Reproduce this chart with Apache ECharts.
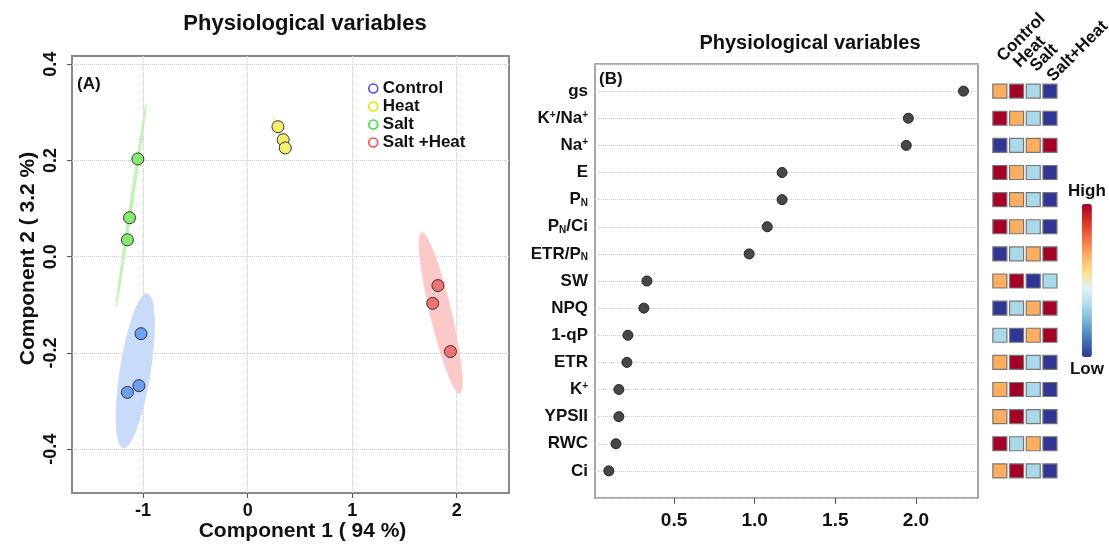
<!DOCTYPE html>
<html>
<head>
<meta charset="utf-8">
<script src="https://cdn.jsdelivr.net/npm/echarts@6/dist/echarts.min.js"></script>
<style>
html, body { margin: 0; padding: 0; background: #fff; }
#chart { width: 1109px; height: 548px; }
</style>
</head>
<body>
<div id="chart"></div>
<script>
// panel A: PCA scores per group [component 1, component 2]
const groups = ['Control', 'Heat', 'Salt', 'Salt +Heat']
const controlScores = [[-1.02, -0.160], [-1.04, -0.268], [-1.15, -0.282]]
const heatScores = [[0.29, 0.270], [0.34, 0.243], [0.36, 0.226]]
const saltScores = [[-1.05, 0.203], [-1.13, 0.081], [-1.15, 0.035]]
const saltHeatScores = [[1.82, -0.060], [1.77, -0.097], [1.94, -0.197]]
// confidence ellipses: centre x, centre y, half major axis (dx, dy), half minor axis (dx, dy)
const controlEllipse = [-1.075, -0.237, 0.115, 0.160, 0.142, -0.005]
const heatEllipse = [0.32, 0.25, -0.081, 0.047, 0.007, 0.0006]
const saltEllipse = [-1.115, 0.106, 0.144, 0.211, 0.013, -0.0004]
const saltHeatEllipse = [1.847, -0.117, -0.182, 0.167, 0.098, 0.005]
const pcaXTicks = [-1, 0, 1, 2]
const pcaYTicks = [-0.4, -0.2, 0, 0.2, 0.4]

// panel B: variables top to bottom, VIP scores and rank of each treatment (4 = high, 1 = low)
const variables = ['{b|gs}', '{b|K}{sup|+}{b|/Na}{sup|+}', '{b|Na}{sup|+}', '{b|E}', '{b|P}{sub|N}',
  '{b|P}{sub|N}{b|/Ci}', '{b|ETR/P}{sub|N}', '{b|SW}', '{b|NPQ}', '{b|1-qP}', '{b|ETR}',
  '{b|K}{sup|+}', '{b|YPSII}', '{b|RWC}', '{b|Ci}']
const vipScores = [2.295, 1.953, 1.94, 1.17, 1.17, 1.078, 0.966, 0.332, 0.313, 0.214, 0.208, 0.158, 0.158, 0.14, 0.096]
const treatments = ['Control', 'Heat', 'Salt', 'Salt+Heat']
const heatRanks = [
  [3, 4, 2, 1], [4, 3, 2, 1], [1, 2, 3, 4], [4, 3, 2, 1], [4, 3, 2, 1],
  [4, 3, 2, 1], [1, 2, 3, 4], [3, 4, 1, 2], [1, 2, 3, 4], [2, 1, 3, 4],
  [3, 4, 2, 1], [3, 4, 2, 1], [3, 4, 2, 1], [4, 2, 3, 1], [3, 4, 2, 1]
]
const vipTicks = [0.5, 1, 1.5, 2]

const pointColors = ['#6a9ff2', '#f2f06e', '#86ea70', '#f07272']
const legendColors = ['#5050e6', '#e6e000', '#3ddd3d', '#ff4a4a']
const ellipseColors = ['#c8dbf8', '#f4f4c4', '#bff3b3', '#fcc9c9']

const yCats = ['', ...variables.slice().reverse(), '']
const n = variables.length
const dotData = vipScores.map((v, i) => [v, n - i])
const heatData = []
heatRanks.forEach((row, i) => row.forEach((r, j) => heatData.push([j, n - i, r])))

const font = 'Liberation Sans, Arial, sans-serif'
const dark = '#111'
const rich = {
  b: { fontSize: 17, fontWeight: 'bold', color: dark, fontFamily: font },
  sup: { fontSize: 10, fontWeight: 'bold', color: dark, fontFamily: font, verticalAlign: 'top' },
  sub: { fontSize: 10, fontWeight: 'bold', color: dark, fontFamily: font, verticalAlign: 'bottom' }
}
// column headers sit a little lower towards the right, as in the original
const headDrop = [0, 6, 10, 20]
const headRich = {}
headDrop.forEach((d, i) => {
  const s = d / Math.SQRT2
  headRich['c' + i] = { fontSize: 17, fontWeight: 'bold', color: dark, fontFamily: font,
    padding: [0, 0, 2 * (14.2 - s), 14.2 - s] }
})

function ellipseItem(params, api) {
  const e = params.dataIndex
  const d = [controlEllipse, heatEllipse, saltEllipse, saltHeatEllipse][e]
  const pts = []
  for (let k = 0; k < 90; k++) {
    const t = k / 90 * Math.PI * 2
    pts.push(api.coord([d[0] + d[2] * Math.cos(t) + d[4] * Math.sin(t),
      d[1] + d[3] * Math.cos(t) + d[5] * Math.sin(t)]))
  }
  return {
    type: 'polygon',
    shape: { points: pts },
    style: { fill: ellipseColors[e], stroke: ellipseColors[e], lineWidth: 0.8 }
  }
}

const chart = echarts.init(document.getElementById('chart'))
chart.setOption({
  animation: false,
  textStyle: { fontFamily: font },
  title: [
    { text: 'Physiological variables', left: 305, top: 13, textAlign: 'center', padding: 0,
      textStyle: { fontSize: 22, fontWeight: 'bold', color: dark } },
    { text: 'Physiological variables', left: 810, top: 33, textAlign: 'center', padding: 0,
      textStyle: { fontSize: 20, fontWeight: 'bold', color: dark } }
  ],
  graphic: [
    { type: 'text', left: 77, top: 76, style: { text: '(A)', font: 'bold 17px ' + font, fill: dark } },
    { type: 'text', left: 599, top: 71, style: { text: '(B)', font: 'bold 17px ' + font, fill: dark } }
  ],
  legend: {
    data: groups.map((g, i) => ({ name: g, icon: 'circle',
      itemStyle: { color: '#fff', borderColor: legendColors[i], borderWidth: 1.6 } })),
    orient: 'vertical', left: 368, top: 80, padding: 0,
    itemWidth: 9, itemHeight: 9, itemGap: 1, selectedMode: false,
    textStyle: { fontSize: 17, fontWeight: 'bold', color: dark, lineHeight: 17 }
  },
  grid: [
    { left: 72, top: 56, right: 600, bottom: 55, show: true, borderColor: '#8a8a8a', borderWidth: 2,
      outerBoundsMode: 'none' },
    { left: 595, top: 64, right: 131, bottom: 50, show: true, borderColor: '#8a8a8a', borderWidth: 1.5,
      outerBoundsMode: 'none' },
    { left: 991.5, width: 66.8, top: 64, bottom: 50, outerBoundsMode: 'none' }
  ],
  xAxis: [
    { type: 'value', gridIndex: 0, min: -1.68, max: 2.5,
      axisLine: { show: false, onZero: false },
      axisTick: { show: true, customValues: pcaXTicks, length: 5, lineStyle: { color: '#555' } },
      axisLabel: { customValues: pcaXTicks, fontSize: 18, fontWeight: 'bold', color: dark, margin: 9 },
      splitLine: { show: true, lineStyle: { type: 'dotted', color: '#cfcfcf' } },
      name: 'Component 1 ( 94 %)', nameLocation: 'middle', nameGap: 28, nameMoveOverlap: false,
      nameTextStyle: { fontSize: 21, fontWeight: 'bold', color: dark, padding: [0, 0, 0, 24] } },
    { type: 'value', gridIndex: 1, min: 0.01, max: 2.385,
      axisLine: { show: false, onZero: false },
      axisTick: { show: true, customValues: vipTicks, length: 6, lineStyle: { color: '#555' } },
      axisLabel: { customValues: vipTicks, formatter: v => v.toFixed(1),
        fontSize: 19, fontWeight: 'bold', color: dark, margin: 13 },
      splitLine: { show: false } },
    { type: 'category', gridIndex: 2, data: treatments, position: 'top',
      axisLine: { show: false }, axisTick: { show: false },
      axisLabel: { interval: 0, rotate: -45, margin: -15, rich: headRich,
        formatter: (v, i) => '{c' + i + '|' + v + '}' } }
  ],
  yAxis: [
    { type: 'value', gridIndex: 0, min: -0.491, max: 0.417,
      axisLine: { show: false, onZero: false },
      axisTick: { show: true, customValues: pcaYTicks, length: 5, lineStyle: { color: '#555' } },
      axisLabel: { customValues: pcaYTicks, formatter: v => v.toFixed(1), rotate: 90,
        fontSize: 18, fontWeight: 'bold', color: dark, margin: 12 },
      splitLine: { show: true, lineStyle: { type: 'dotted', color: '#cfcfcf' } },
      name: 'Component 2 ( 3.2 %)', nameLocation: 'middle', nameGap: 33, nameMoveOverlap: false,
      nameTextStyle: { fontSize: 21, fontWeight: 'bold', color: dark, padding: [0, 0, 0, 32] } },
    { type: 'category', gridIndex: 1, data: yCats, boundaryGap: false,
      axisLine: { show: false }, axisTick: { show: false },
      axisLabel: { interval: 0, margin: 7, rich: rich, formatter: v => v },
      splitLine: { show: true, interval: 0, lineStyle: { type: 'dotted', color: '#cfcfcf' } } },
    { type: 'category', gridIndex: 2, data: yCats, boundaryGap: false, show: false }
  ],
  visualMap: {
    type: 'continuous', min: 1, max: 4, seriesIndex: 6, dimension: 2,
    orient: 'vertical', left: 1068, top: 183, padding: 0,
    itemWidth: 10, itemHeight: 153, text: ['High', 'Low'], textGap: 4, calculable: false,
    textStyle: { fontSize: 17, fontWeight: 'bold', color: dark },
    inRange: { color: ['#313695', '#4575b4', '#74add1', '#abd9e9', '#e0f3f8',
      '#fee090', '#fdae61', '#f46d43', '#d73027', '#a50026'] }
  },
  series: [
    ...[controlScores, heatScores, saltScores, saltHeatScores].map((d, i) => ({
      name: groups[i], type: 'scatter', xAxisIndex: 0, yAxisIndex: 0, data: d, z: 3,
      symbolSize: 12,
      itemStyle: { color: pointColors[i], borderColor: '#333', borderWidth: 1, opacity: 1 }
    })),
    { type: 'custom', xAxisIndex: 0, yAxisIndex: 0, z: 1, silent: true,
      data: [controlEllipse, heatEllipse, saltEllipse, saltHeatEllipse],
      renderItem: ellipseItem },
    { type: 'scatter', xAxisIndex: 1, yAxisIndex: 1, data: dotData, symbolSize: 10,
      itemStyle: { color: '#474747', borderColor: '#222', borderWidth: 1, opacity: 1 } },
    { type: 'scatter', xAxisIndex: 2, yAxisIndex: 2, data: heatData, symbol: 'rect',
      symbolSize: [14, 14], itemStyle: { borderColor: '#777', borderWidth: 1.2, opacity: 1 } }
  ]
})
</script>
</body>
</html>
